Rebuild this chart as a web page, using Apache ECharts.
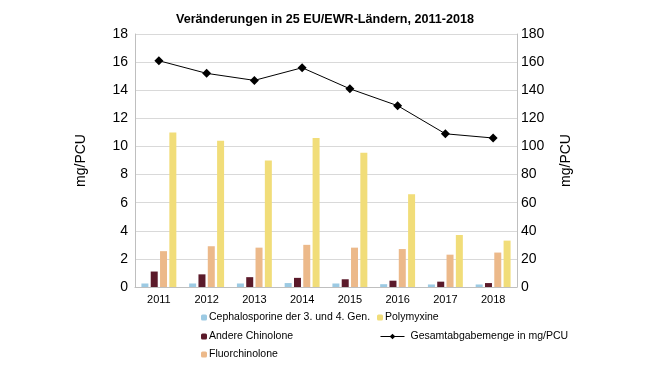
<!DOCTYPE html>
<html><head><meta charset="utf-8">
<script src="https://cdn.jsdelivr.net/npm/echarts@6/dist/echarts.min.js"></script>
<style>html,body{margin:0;padding:0;background:#fff}#c{width:650px;height:366px}</style>
</head><body><div id="c"></div>
<script>
const years = ['2011','2012','2013','2014','2015','2016','2017','2018'];
const cephalo = [0.25,0.25,0.25,0.28,0.25,0.2,0.18,0.18];
const andere = [1.1,0.9,0.7,0.65,0.55,0.45,0.38,0.28];
const fluor = [2.55,2.9,2.8,3.0,2.8,2.7,2.3,2.45];
const polymyxine = [11.0,10.4,9.0,10.6,9.55,6.6,3.7,3.3];
const gesamt = [161,152,147,156,141,129,109,106];

const chart = echarts.init(document.getElementById('c'));
const font = 'Liberation Sans, Arial, sans-serif';
const barW = 7;
const lt = {fontSize:10.5,color:'#000',padding:[0,0,0,-3]};
chart.setOption({
  animation:false,
  textStyle:{fontFamily:font},
  title:{text:'Veränderungen in 25 EU/EWR-Ländern, 2011-2018',left:'center',top:8,
    textStyle:{fontSize:12.6,fontWeight:'bold',color:'#000',fontFamily:font}},
  grid:{left:135,right:133,top:34,bottom:79},
  legend:[
    {data:['Cephalosporine der 3. und 4. Gen.'],left:196,top:307,itemWidth:6,itemHeight:6,textStyle:lt},
    {data:['Andere Chinolone'],left:196,top:326,itemWidth:6,itemHeight:6,textStyle:lt},
    {data:['Fluorchinolone'],left:196,top:344,itemWidth:6,itemHeight:6,textStyle:lt},
    {data:['Polymyxine'],left:372,top:307,itemWidth:6,itemHeight:6,textStyle:lt},
    {data:['Gesamtabgabemenge in mg/PCU'],left:375,top:326,itemWidth:24,itemHeight:7,
     lineStyle:{width:1},textStyle:{fontSize:10.5,color:'#000',padding:[0,0,0,1]}}
  ],
  xAxis:{type:'category',data:years,axisLine:{lineStyle:{color:'#bfbfbf'}},axisTick:{show:false},
    axisLabel:{color:'#000',fontSize:11,margin:7}},
  yAxis:[
    {type:'value',min:0,max:18,interval:2,name:'mg/PCU',nameLocation:'middle',nameGap:47,nameRotate:90,
     nameTextStyle:{fontSize:14,color:'#000'},
     axisLine:{show:true,lineStyle:{color:'#bfbfbf'}},axisTick:{show:false},
     axisLabel:{color:'#000',fontSize:14,margin:7},splitLine:{lineStyle:{color:'#d9d9d9'}}},
    {type:'value',min:0,max:180,interval:20,name:'mg/PCU',nameLocation:'middle',nameGap:42,nameRotate:90,
     nameTextStyle:{fontSize:14,color:'#000'},
     axisLine:{show:true,lineStyle:{color:'#bfbfbf'}},axisTick:{show:false},
     axisLabel:{color:'#000',fontSize:14,margin:4},splitLine:{show:false}}
  ],
  series:[
    {name:'Cephalosporine der 3. und 4. Gen.',type:'bar',data:cephalo,barWidth:barW,barGap:'33%',itemStyle:{color:'#9ccae3'}},
    {name:'Andere Chinolone',type:'bar',data:andere,barWidth:barW,barGap:'33%',itemStyle:{color:'#5b1a2a'}},
    {name:'Fluorchinolone',type:'bar',data:fluor,barWidth:barW,barGap:'33%',itemStyle:{color:'#ecb98a'}},
    {name:'Polymyxine',type:'bar',data:polymyxine,barWidth:barW,barGap:'33%',itemStyle:{color:'#f1dd79'}},
    {name:'Gesamtabgabemenge in mg/PCU',type:'line',yAxisIndex:1,data:gesamt,symbol:'diamond',symbolSize:9,
     lineStyle:{color:'#000',width:1},itemStyle:{color:'#000'},z:5}
  ]
});
</script></body></html>
